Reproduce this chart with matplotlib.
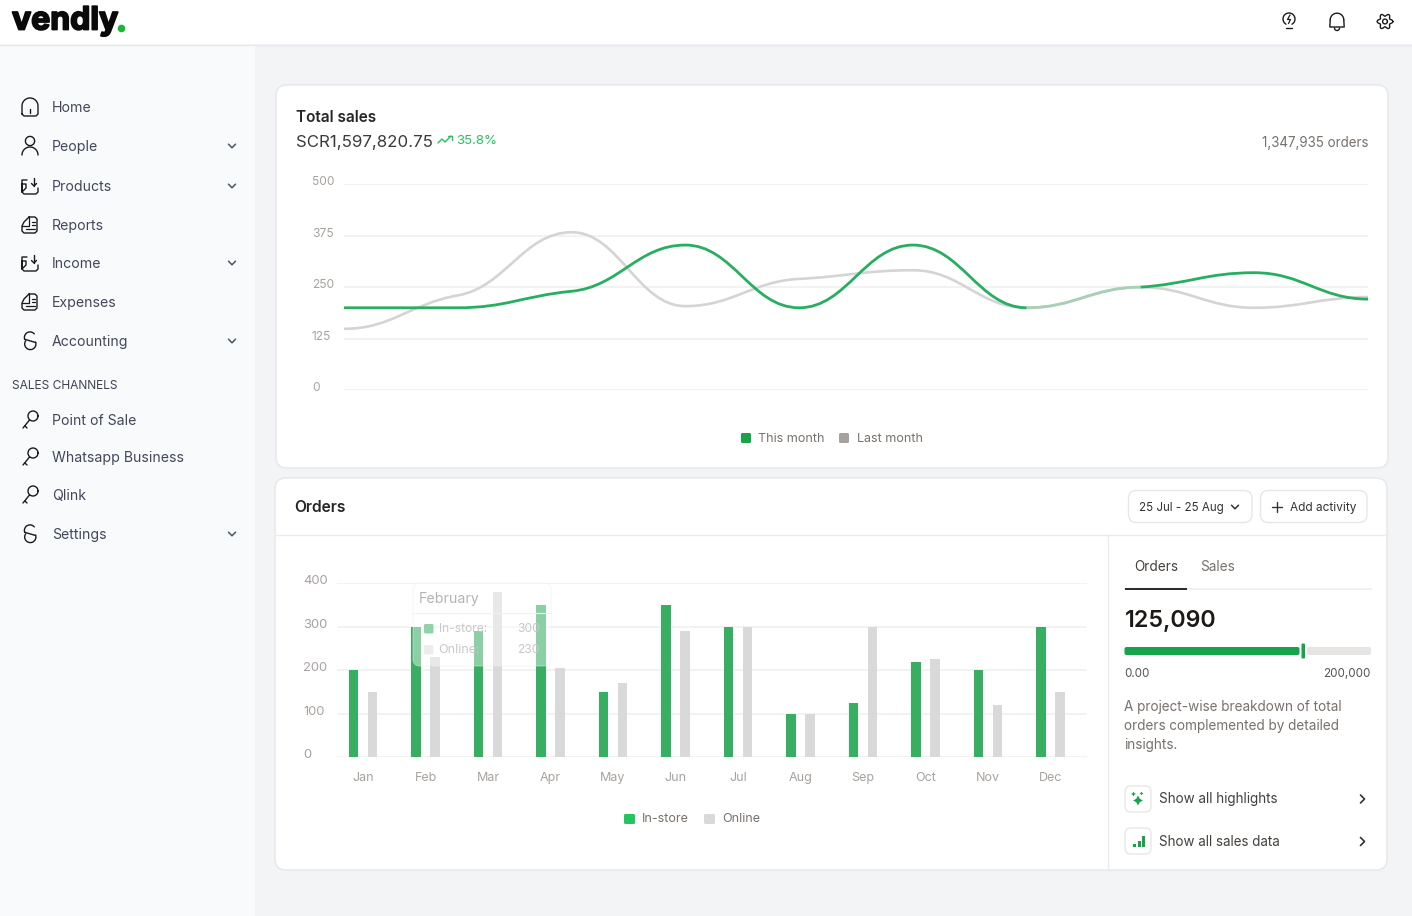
import numpy as np
import matplotlib
matplotlib.use("Agg")
import matplotlib.pyplot as plt
import matplotlib.patheffects as pe
from matplotlib.path import Path
from matplotlib.patches import PathPatch, FancyBboxPatch, Circle, Rectangle
from matplotlib.transforms import ScaledTranslation

plt.rcParams["font.family"] = ["Inter", "DejaVu Sans"]

# data
line_x = list(range(10))
this_month = [200, 200, 240, 352, 200, 352, 200, 250, 285, 221]
last_month = [149, 230, 383, 204, 270, 291, 200, 250, 200, 226]
line_ticks = [0, 125, 250, 375, 500]

months = ["Jan", "Feb", "Mar", "Apr", "May", "Jun", "Jul", "Aug", "Sep", "Oct", "Nov", "Dec"]
in_store = [200, 300, 290, 350, 150, 350, 300, 100, 125, 220, 200, 300]
online = [150, 230, 380, 205, 170, 290, 300, 100, 300, 225, 120, 150]
bar_ticks = [0, 100, 200, 300, 400]

nav_items = [("Home", 107, "home", False), ("People", 146, "person", True),
             ("Products", 186, "tray", True), ("Reports", 225, "doc", False),
             ("Income", 263, "tray", True), ("Expenses", 302, "doc", False),
             ("Accounting", 341, "s", True), ("Point of Sale", 420, "key", False),
             ("Whatsapp Business", 457, "key", False), ("Qlink", 495, "key", False),
             ("Settings", 534, "s", True)]

W, H = 1412, 916
GREEN = "#27AE60"
GRID = "#EFEFEF"
TICK = "#A8A29E"
INK = "#1C1917"


def px(size):
    return size * 0.72


fig = plt.figure(figsize=(W / 100, H / 100), dpi=100, facecolor="#F3F4F6")

ui = fig.add_axes([0, 0, 1, 1], zorder=0)
ui.set_xlim(0, W)
ui.set_ylim(H, 0)
ui.axis("off")

top = fig.add_axes([0, 0, 1, 1], zorder=5)
top.set_xlim(0, W)
top.set_ylim(H, 0)
top.axis("off")
top.patch.set_alpha(0)


def box(ax, x0, y0, x1, y1, r=8, fc="white", ec="#E7E7E9", lw=1.0, alpha=None, z=1):
    p = FancyBboxPatch((x0 + r, y0 + r), x1 - x0 - 2 * r, y1 - y0 - 2 * r,
                       boxstyle=f"round,pad={r},rounding_size={r}",
                       fc=fc, ec=ec, lw=lw, alpha=alpha, zorder=z)
    ax.add_patch(p)


def txt(x, y, s, size=14, color="#44475B", ha="left", weight="normal", ax=ui, **kw):
    return ax.text(x, y + 1, s, fontsize=px(size), color=color, ha=ha, va="center",
                   fontweight=weight, zorder=6, **kw)


def stroke(xs, ys, color="#1A1A1A", lw=1.0, ax=ui):
    ax.plot(xs, ys, color=color, lw=lw, solid_capstyle="round", solid_joinstyle="round", zorder=6)


def chevron_down(x, y, color="#4B5563"):
    stroke([x - 3.5, x, x + 3.5], [y - 1.8, y + 1.8, y - 1.8], color=color, lw=1.1)


def chevron_right(x, y):
    stroke([x - 2, x + 2, x - 2], [y - 4, y, y + 4], color="#333333", lw=1.2)


def icon_arc(cx, cy, r, a0, a1, **kw):
    t = np.radians(np.linspace(a0, a1, 40))
    stroke(cx + r * np.cos(t), cy + r * np.sin(t), **kw)


def icon(kind, cx, cy):
    if kind == "home":
        t = np.radians(np.linspace(180, 360, 30))
        xs = np.r_[cx - 8, cx + 8 * np.cos(t), cx + 8, cx + 6, cx - 6, cx - 8]
        ys = np.r_[cy + 7, cy - 1 + 8 * np.sin(t), cy + 7, cy + 9, cy + 9, cy + 7]
        stroke(xs, ys)
        stroke([cx, cx], [cy + 2, cy + 6])
    elif kind == "person":
        icon_arc(cx, cy - 5, 4.6, 0, 360)
        icon_arc(cx, cy + 9, 8, 180, 360)
    elif kind == "tray":
        stroke([cx + 4, cx + 4], [cy - 8, cy])
        stroke([cx + 1.5, cx + 4, cx + 6.5], [cy - 2.5, cy, cy - 2.5])
        stroke([cx - 3, cx - 8, cx - 8, cx - 4, cx - 4, cx - 8, cx - 8, cx - 6, cx + 6, cx + 8, cx + 8],
               [cy - 6, cy - 6, cy + 6, cy + 2, cy - 2, cy - 2, cy + 6, cy + 8, cy + 8, cy + 6, cy + 2])
    elif kind == "doc":
        stroke([cx - 1, cx + 5, cx + 7, cx + 7, cx + 5, cx - 6, cx - 8, cx - 8, cx - 6, cx - 1],
               [cy - 8, cy - 8, cy - 6, cy + 6, cy + 8, cy + 8, cy + 6, cy + 1, cy - 3, cy - 8])
        stroke([cx - 1, cx - 1, cx - 8], [cy - 8, cy + 1, cy + 1], lw=0.9)
        stroke([cx + 2, cx + 4.5], [cy - 3.5, cy - 3.5], lw=0.9)
        stroke([cx + 2, cx + 4.5], [cy - 0.5, cy - 0.5], lw=0.9)
        stroke([cx - 4, cx + 4.5], [cy + 4, cy + 4], lw=0.9)
    elif kind == "s":
        icon_arc(cx, cy - 3.5, 5.6, 320, 160)
        stroke([cx - 5.3, cx + 5.6], [cy - 1.7, cy + 1.5])
        icon_arc(cx + 0.3, cy + 3, 5.6, -20, 215)
    elif kind == "key":
        icon_arc(cx + 3, cy - 4, 5, 0, 360)
        stroke([cx - 0.5, cx - 7], [cy, cy + 8])
        stroke([cx - 5, cx - 3], [cy + 6, cy + 8])


# page frame
ui.add_patch(Rectangle((0, 0), W, 44, fc="white", ec="none", zorder=1))
ui.add_patch(Rectangle((0, 45), 255, H - 45, fc="#F9FAFC", ec="none", zorder=1))
ui.plot([0, W], [44.5, 44.5], color="#E8E9EC", lw=1, zorder=2)

# logo
txt(12, 20, "vendly", size=32, color="#0A0A0A", weight="bold",
    path_effects=[pe.withStroke(linewidth=1.3, foreground="#0A0A0A")])
ui.add_patch(Circle((121.5, 28.5), 3.8, fc="#16B836", ec="none", zorder=6))

# top right icons
icon_arc(1289, 19, 6, 120, 420)
stroke([1286, 1292], [28, 28])
stroke([1290, 1287.5, 1290.5, 1288.5], [15, 19.5, 19.5, 23.5], lw=0.9)
icon_arc(1337, 20, 6.8, 180, 360)
stroke([1330.2, 1329.8, 1344.2, 1343.8], [20, 27, 27, 20])
icon_arc(1337, 28, 2.5, 0, 180)
gear_t = np.linspace(0, 2 * np.pi, 97)
stroke(1385 + (6.6 + 1.3 * np.cos(6 * gear_t)) * np.cos(gear_t),
       21.5 + (6.6 + 1.3 * np.cos(6 * gear_t)) * np.sin(gear_t))
icon_arc(1385, 21.5, 2.4, 0, 360)

# sidebar
for label, y, kind, has_chevron in nav_items:
    icon(kind, 30, y)
    txt(52, y, label, size=14.1)
    if has_chevron:
        chevron_down(232, y)
txt(12, 385, "SALES CHANNELS", size=12, color="#3F4254")

# cards
box(ui, 276, 85, 1388, 468, r=11, ec="#E5E7EB")
box(ui, 275, 478, 1387, 870, r=11, ec="#E5E7EB")
ui.plot([275, 1387], [535, 535], color="#EBEBEC", lw=1, zorder=3)
ui.plot([1108, 1108], [535, 870], color="#EBEBEC", lw=1, zorder=3)

# total sales header
txt(296, 117, "Total sales", size=15.3, color="#262626", weight="semibold")
txt(296, 141, "SCR1,597,820.75", size=16.9, color="#3A3A3A")
stroke([438, 442, 445, 451], [143, 139, 142, 136], color="#22C55E", lw=1.0)
stroke([447.5, 451.5, 451.5], [136, 136, 140], color="#22C55E", lw=1.0)
txt(456, 139.5, "35.8%", size=13.2, color="#22C55E")
txt(1368, 142, "1,347,935 orders", size=13.4, color="#78716C", ha="right")


def ax_from_px(x0, y0, x1, y1):
    a = fig.add_axes([x0 / W, 1 - y1 / H, (x1 - x0) / W, (y1 - y0) / H], zorder=2)
    a.patch.set_alpha(0)
    for s in a.spines.values():
        s.set_visible(False)
    return a


def smooth_curve(xs, ys, color, lw, z, i0=0, i1=None):
    # bezier through the values, tangents flat at turning points
    xs = np.asarray(xs, float)
    ys = np.asarray(ys, float)
    d = np.diff(ys)
    m = np.zeros_like(ys)
    for i in range(1, len(ys) - 1):
        if d[i - 1] * d[i] > 0:
            m[i] = 2 * d[i - 1] * d[i] / (d[i - 1] + d[i]) * 0.45
    i1 = len(xs) - 1 if i1 is None else i1
    verts = [(xs[i0], ys[i0])]
    codes = [Path.MOVETO]
    for i in range(i0, i1):
        h = xs[i + 1] - xs[i]
        verts += [(xs[i] + h * 0.42, ys[i] + m[i] * 0.42),
                  (xs[i + 1] - h * 0.42, ys[i + 1] - m[i + 1] * 0.42),
                  (xs[i + 1], ys[i + 1])]
        codes += [Path.CURVE4] * 3
    return PathPatch(Path(verts, codes), fc="none", ec=color, lw=lw, zorder=z, capstyle="butt")


# line chart
ax1 = ax_from_px(344, 184, 1368, 390.3)
ax1.set_xlim(0, 9)
ax1.set_ylim(0, 500)
ax1.set_xticks([])
ax1.set_yticks(line_ticks)
ax1.set_yticklabels([str(v) for v in line_ticks], ha="left", va="center")
ax1.tick_params(axis="y", length=0, pad=px(32), labelsize=px(12), labelcolor=TICK)
shift = ScaledTranslation(0, 2 / 100, fig.dpi_scale_trans)
for t in ax1.get_yticklabels():
    t.set_transform(t.get_transform() + shift)
ax1.grid(axis="y", color=GRID, lw=1.1)
ax1.set_axisbelow(True)
ax1.add_patch(smooth_curve(line_x, last_month, "#D4D4D4", 1.9, 3))
ax1.add_patch(smooth_curve(line_x, this_month, GREEN, 2.0, 4, 0, 6))
ax1.add_patch(smooth_curve(line_x, this_month, GREEN, 2.0, 4, 7))
# where the lines coincide the colours blend
ax1.add_patch(smooth_curve(line_x, last_month, "#A9CFB6", 2.0, 5, 6, 7))

box(ui, 741, 433, 751, 443, r=1.5, fc="#16A34A", ec="none", z=6)
txt(758, 438, "This month", size=12.5, color="#78716C")
box(ui, 839, 433, 849, 443, r=1.5, fc="#A8A29E", ec="none", z=6)
txt(857, 438, "Last month", size=12.5, color="#78716C")

# orders header
txt(294.5, 507, "Orders", size=15.6, color="#262626", weight="semibold")
box(ui, 1128.5, 490.5, 1252, 522.5, r=8, ec="#E7E7E9", z=3)
txt(1139, 506.5, "25 Jul - 25 Aug", size=11.6, color="#333333")
chevron_down(1235, 507, color="#333333")
box(ui, 1260.5, 490.5, 1367, 522.5, r=8, ec="#E7E7E9", z=3)
stroke([1277, 1277], [502, 512], color="#333333")
stroke([1272, 1282], [507, 507], color="#333333")
txt(1290, 506.5, "Add activity", size=11.8, color="#333333")

# bar chart
ax2 = ax_from_px(336.7, 583.3, 1087, 757.3)
ax2.set_xlim(-26.3 / 62.5, 11 + (1087 - 1050.5) / 62.5)
ax2.set_ylim(0, 400)
pos = np.arange(len(months))
ax2.bar(pos - 0.154, in_store, width=0.152, color="#38AE63", zorder=3)
ax2.bar(pos + 0.154, online, width=0.152, color="#D9D9D9", zorder=3)
ax2.set_xticks(pos)
ax2.set_xticklabels(months)
ax2.set_yticks(bar_ticks)
ax2.set_yticklabels([str(v) for v in bar_ticks], ha="left", va="center")
ax2.tick_params(axis="x", length=0, pad=px(14.5), labelsize=px(12.5), labelcolor=TICK)
ax2.tick_params(axis="y", length=0, pad=px(33.5), labelsize=px(13), labelcolor=TICK)
for t in ax2.get_yticklabels():
    t.set_transform(t.get_transform() + shift)
ax2.grid(axis="y", color=GRID, lw=1.1)
ax2.set_axisbelow(True)

box(ui, 624, 814, 635, 824, r=1.5, fc="#22C55E", ec="none", z=6)
txt(642, 818, "In-store", size=12.5, color="#78716C")
box(ui, 704, 814, 715, 824, r=1.5, fc="#D9D9D9", ec="none", z=6)
txt(722, 818, "Online", size=12.5, color="#78716C")

# faded tooltip over the bars
box(top, 413, 583, 551, 666, r=7, fc="white", ec="#EDEDED", lw=0.8, alpha=0.42, z=2)
top.plot([413, 551], [613, 613], color="#F1F1F1", lw=0.8, zorder=3)
txt(419, 597.5, "February", size=14.2, color="#B4B4B8", ax=top)
box(top, 424, 624, 433.5, 633.5, r=1.5, fc="#8FD3A8", ec="none", z=4)
txt(438.5, 628, "In-store:", size=12, color="#C8C8CC", ax=top)
txt(540, 628, "300", size=12, color="#C8C8CC", ha="right", ax=top)
box(top, 424, 645, 433.5, 654.5, r=1.5, fc="#EDEDED", ec="none", z=4)
txt(438.5, 649, "Online:", size=12.5, color="#C8C8CC", ax=top)
txt(540, 649, "230", size=12, color="#C8C8CC", ha="right", ax=top)

# right panel
txt(1134, 566, "Orders", size=13.6, color="#44403C")
txt(1200.5, 566, "Sales", size=13.6, color="#78716C")
ui.plot([1124.5, 1371], [588.5, 588.5], color="#EDEDED", lw=1.2, zorder=3)
ui.plot([1124.5, 1187], [588.5, 588.5], color="#1C1917", lw=1.3, zorder=4, solid_capstyle="butt")
txt(1124.5, 619.5, "125,090", size=23.3, color=INK, weight="semibold")
box(ui, 1124.5, 647, 1299.5, 655, r=2, fc="#16A34A", ec="none", z=4)
box(ui, 1307, 647, 1371, 655, r=2, fc="#E7E5E4", ec="none", z=4)
box(ui, 1301.5, 643.5, 1305, 658.5, r=1, fc="#16A34A", ec="none", z=5)
txt(1124.5, 673, "0.00", size=11.6, color="#57534E")
txt(1371, 673, "200,000", size=11.6, color="#57534E", ha="right")
for y, s in zip([706, 725, 744], ["A project-wise breakdown of total",
                                  "orders complemented by detailed",
                                  "insights."]):
    txt(1124.5, y, s, size=13.55, color="#78716C")

box(ui, 1125, 786, 1151, 812, r=6, ec="#E7E7E9", z=3)
box(ui, 1125, 828, 1151, 854, r=6, ec="#E7E7E9", z=3)
ui.scatter([1138, 1133.5, 1141.5], [800.5, 794, 793.5], marker=(4, 1, 0), s=[50, 12, 8],
           color="#16A34A", lw=0, zorder=6)
for x, h in zip([1133, 1137.5, 1142], [3, 6, 11]):
    ui.add_patch(Rectangle((x, 847 - h), 3, h, fc="#16A34A", ec="none", zorder=6))
txt(1159, 798.5, "Show all highlights", size=13.5, color="#44403C")
txt(1159, 840.5, "Show all sales data", size=13.4, color="#44403C")
chevron_right(1362.5, 799)
chevron_right(1362.5, 841.5)

fig.savefig("out.png", dpi=100, facecolor=fig.get_facecolor())
